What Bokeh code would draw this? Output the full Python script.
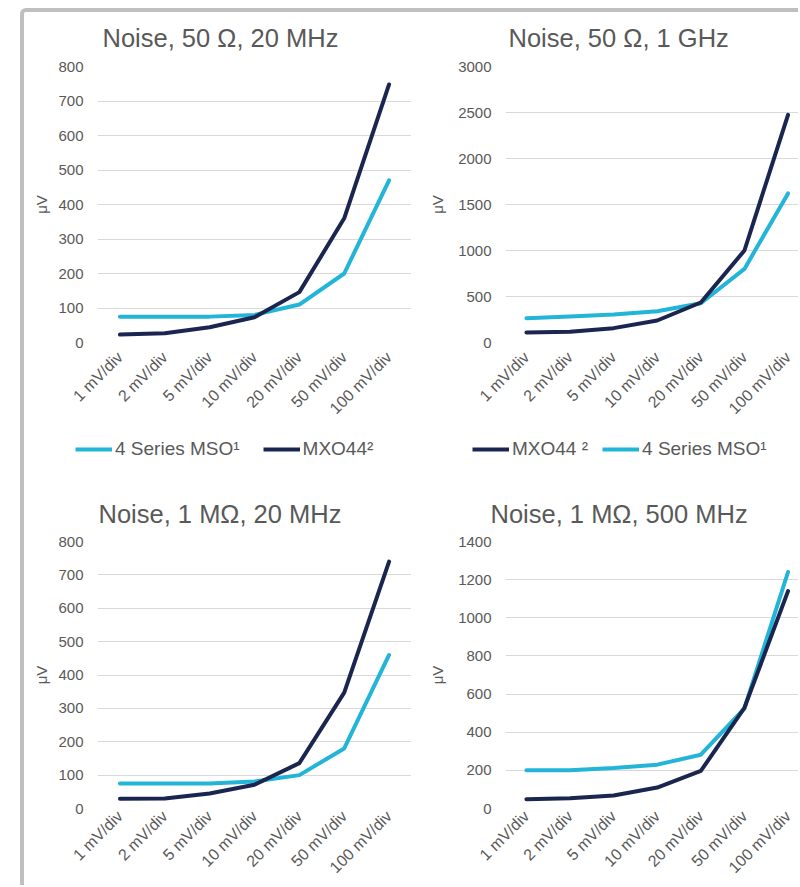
import math
from bokeh.plotting import figure
from bokeh.layouts import column, row
from bokeh.models import Legend, LegendItem, Range1d, FixedTicker
from bokeh.core.properties import value
from bokeh.embed import file_html
from bokeh.resources import INLINE

categories = ["1 mV/div", "2 mV/div", "5 mV/div", "10 mV/div", "20 mV/div", "50 mV/div", "100 mV/div"]

# Noise, 50 Ohm, 20 MHz
p1_mso = [75, 75, 75, 80, 110, 200, 470]
p1_mxo = [23, 27, 44, 73, 146, 360, 748]
# Noise, 50 Ohm, 1 GHz
p2_mso = [264, 283, 304, 340, 427, 800, 1620]
p2_mxo = [108, 116, 156, 239, 435, 1000, 2475]
# Noise, 1 MOhm, 20 MHz
p3_mso = [75, 75, 75, 81, 100, 180, 460]
p3_mxo = [29, 30, 45, 71, 136, 347, 740]
# Noise, 1 MOhm, 500 MHz
p4_mso = [200, 200, 212, 230, 282, 525, 1240]
p4_mxo = [49, 54, 68, 110, 197, 528, 1140]

titles = ["Noise, 50 \u03a9, 20 MHz", "Noise, 50 \u03a9, 1 GHz", "Noise, 1 M\u03a9, 20 MHz", "Noise, 1 M\u03a9, 500 MHz"]
label_mso = "4 Series MSO\u00b9"
label_mxo_a = "MXO44\u00b2"
label_mxo_b = "MXO44 \u00b2"

CYAN = "#22B5D8"
NAVY = "#1B2650"
GREY = "#595959"
FONT = "Liberation Sans"
W = 387

idx = list(range(len(categories)))
overrides = {i: c for i, c in zip(idx, categories)}


def bare_fig(width, height):
    f = figure(width=width, height=height, x_range=Range1d(0, width), y_range=Range1d(0, height),
               output_backend="svg", toolbar_location=None,
               x_axis_location=None, y_axis_location=None,
               min_border=0, outline_line_color=None)
    f.grid.visible = False
    return f


def make_title(text, x, y, height):
    tp = bare_fig(W, height)
    tp.text(x=[x], y=[y], text=[text], text_font=value(FONT), text_font_size="25.5px",
            text_color=GREY, text_baseline="alphabetic", text_align="left")
    return tp


def make_fig(mso, mxo, ymax, step, xr, mb_left, height, mb_bottom, x_standoff, label_standoff):
    p = figure(x_range=Range1d(*xr), y_range=Range1d(0, ymax), width=W, height=height, title=None,
               output_backend="svg", toolbar_location=None,
               min_border_left=mb_left, min_border_right=0,
               min_border_top=10, min_border_bottom=mb_bottom)
    p.outline_line_color = None
    p.xgrid.grid_line_color = None
    p.ygrid.grid_line_color = "#D9D9D9"
    p.ygrid.grid_line_width = 1
    p.yaxis.ticker = FixedTicker(ticks=list(range(0, ymax + 1, step)))
    p.xaxis.ticker = FixedTicker(ticks=idx)
    p.xaxis.major_label_overrides = overrides
    for ax in (p.xaxis[0], p.yaxis[0]):
        ax.axis_line_color = None
        ax.major_tick_line_color = None
        ax.minor_tick_line_color = None
        ax.major_tick_out = 0
        ax.major_tick_in = 0
        ax.major_label_text_color = GREY
        ax.major_label_text_font = FONT
    p.yaxis.major_label_text_font_size = "15px"
    p.xaxis.major_label_text_font_size = "16px"
    p.xaxis.major_label_orientation = math.pi / 4
    p.xaxis.major_label_standoff = x_standoff
    p.yaxis.major_label_standoff = 14
    p.yaxis.axis_label = "\u03bcV"
    p.yaxis.axis_label_text_font = FONT
    p.yaxis.axis_label_text_font_size = "15px"
    p.yaxis.axis_label_text_font_style = "normal"
    p.yaxis.axis_label_text_color = GREY
    p.yaxis.axis_label_standoff = label_standoff

    p.line(x=idx, y=mso, line_color=CYAN, line_width=4,
           line_join="round", line_cap="round")
    p.line(x=idx, y=mxo, line_color=NAVY, line_width=4,
           line_join="round", line_cap="round")
    return p


def make_legend(order, loc, spacing, height):
    lp = bare_fig(W, height)
    items = []
    for key, lab in order:
        # legend-only renderer, drawn outside the visible range
        r = lp.line(x=[-10, -5], y=[-10, -5], line_color=CYAN if key == "mso" else NAVY, line_width=4)
        items.append(LegendItem(label=lab, renderers=[r]))
    leg = Legend(items=items, orientation="horizontal", location=loc,
                 glyph_width=37, glyph_height=20, label_standoff=3, spacing=spacing,
                 padding=0, margin=0, border_line_color=None,
                 background_fill_alpha=0, label_text_font=FONT,
                 label_text_font_size="19px", label_text_color=GREY)
    lp.add_layout(leg, "center")
    return lp


XR_LEFT = (-0.5, 6.5)
XR_RIGHT = (-0.48, 6.24)

t1 = make_title(titles[0], 78, 19, 44)
t2 = make_title(titles[1], 97, 19, 44)
p1 = make_fig(p1_mso, p1_mxo, 800, 100, XR_LEFT, 73, 371, 85, 12, 5)
p2 = make_fig(p2_mso, p2_mxo, 3000, 500, XR_RIGHT, 94, 371, 85, 12, 9)
l1 = make_legend([("mso", label_mso), ("mxo", label_mxo_a)], (51, 10), 23, 43)
l2 = make_legend([("mxo", label_mxo_b), ("mso", label_mso)], (61, 10), 14, 43)
t3 = make_title(titles[2], 74, 18, 61)
t4 = make_title(titles[3], 79, 18, 61)
p3 = make_fig(p3_mso, p3_mxo, 800, 100, XR_LEFT, 73, 354, 77, 5, 5)
p4 = make_fig(p4_mso, p4_mxo, 1400, 200, XR_RIGHT, 94, 354, 77, 5, 9)

layout = column(row(t1, t2), row(p1, p2), row(l1, l2), row(t3, t4), row(p3, p4),
                margin=(8, 0, 0, 20),
                styles={"border-left": "4px solid #BFBFBF", "border-top": "4px solid #BFBFBF",
                        "border-top-left-radius": "6px"})

open("out.html", "w").write(file_html(layout, INLINE))
